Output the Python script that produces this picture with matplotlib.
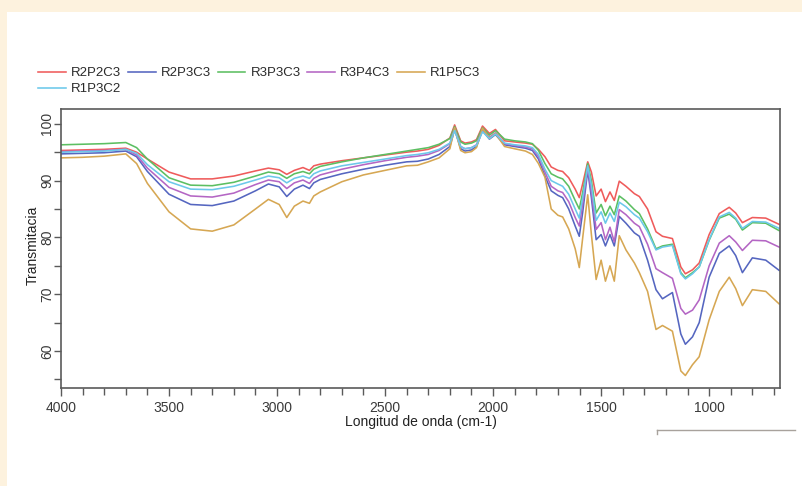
import matplotlib
matplotlib.use("Agg")
import matplotlib.pyplot as plt
from matplotlib.lines import Line2D
from matplotlib.patches import Rectangle
from matplotlib.ticker import MultipleLocator

plt.rcParams['font.family'] = ['Liberation Sans', 'DejaVu Sans']

# ---------------- data ----------------
wavenumber = [4000, 3900, 3800, 3700, 3650, 3600, 3500, 3400, 3300, 3200, 3100, 3040,
              2990, 2955, 2920, 2880, 2850, 2830, 2800, 2700, 2600, 2500, 2400, 2350,
              2300, 2250, 2200, 2178, 2150, 2130, 2100, 2077, 2049, 2017, 1989, 1947,
              1900, 1850, 1818, 1790, 1760, 1731, 1700, 1678, 1650, 1620, 1601, 1585,
              1562, 1545, 1523, 1500, 1480, 1459, 1439, 1416, 1385, 1346, 1323, 1285,
              1246, 1216, 1170, 1131, 1110, 1077, 1046, 1000, 953, 907, 877, 846,
              800, 738, 676]

R2P2C3 = [95.3, 95.4, 95.5, 95.7, 95.0, 93.8, 91.5, 90.3, 90.3, 90.8, 91.7, 92.2,
          91.9, 91.1, 91.8, 92.3, 91.8, 92.6, 92.9, 93.5, 94.0, 94.5, 95.0, 95.2,
          95.5, 96.2, 97.5, 99.8, 97.0, 96.6, 96.8, 97.2, 99.6, 98.3, 99.0, 97.0,
          96.8, 96.6, 96.4, 95.5, 94.2, 92.4, 91.8, 91.6, 90.5, 88.5, 87.0, 89.5,
          93.3, 91.5, 87.3, 88.5, 86.3, 88.0, 86.5, 89.9, 89.0, 87.7, 87.2, 85.0,
          81.0, 80.2, 79.8, 74.8, 73.6, 74.3, 75.5, 80.5, 84.2, 85.3, 84.3, 82.6,
          83.5, 83.4, 82.3]

R2P3C3 = [94.7, 94.8, 94.9, 95.2, 94.2, 91.6, 87.6, 85.8, 85.6, 86.4, 88.2, 89.4,
          88.9, 87.2, 88.5, 89.2, 88.6, 89.6, 90.2, 91.2, 92.0, 92.7, 93.3, 93.4,
          93.8, 94.6, 96.0, 99.0, 95.6, 95.2, 95.4, 96.0, 98.8, 97.3, 98.1, 96.3,
          96.0, 95.7, 95.3, 93.8, 90.8, 88.2, 87.4, 87.0, 85.0, 82.0, 80.2, 84.5,
          91.8, 87.0, 79.6, 80.5, 78.5, 80.5, 78.5, 83.7, 82.5, 80.8, 80.2, 76.0,
          70.8, 69.2, 70.3, 63.0, 61.2, 62.5, 65.0, 73.0, 77.2, 78.5, 76.8, 73.8,
          76.4, 76.0, 74.2]

R3P3C3 = [96.3, 96.4, 96.5, 96.7, 95.8, 93.8, 90.5, 89.2, 89.1, 89.7, 90.8, 91.5,
          91.2, 90.4, 91.2, 91.6, 91.2, 92.0, 92.5, 93.3, 94.0, 94.6, 95.2, 95.5,
          95.8, 96.4, 97.4, 99.5, 96.8, 96.4, 96.6, 97.0, 99.3, 98.0, 98.8, 97.3,
          97.0, 96.8, 96.5, 95.3, 93.0, 91.2, 90.6, 90.3, 89.0, 86.5, 85.0, 88.0,
          93.0, 90.0, 84.3, 85.8, 83.8, 85.5, 84.0, 87.3, 86.4, 84.9, 84.2, 81.5,
          78.0, 78.5, 78.8, 73.8, 72.9, 73.8, 74.8, 79.5, 83.4, 84.1, 83.2, 81.3,
          82.6, 82.5, 81.2]

R3P4C3 = [95.1, 95.2, 95.3, 95.5, 94.5, 92.2, 88.8, 87.3, 87.1, 87.8, 89.3, 90.1,
          89.8, 88.6, 89.6, 90.1, 89.5, 90.4, 91.0, 92.0, 92.8, 93.5, 94.1, 94.3,
          94.6, 95.3, 96.5, 99.2, 96.0, 95.6, 95.8, 96.3, 99.0, 97.6, 98.4, 96.5,
          96.2, 95.9, 95.6, 94.2, 91.5, 89.0, 88.2, 87.9, 86.3, 83.5, 82.0, 86.0,
          92.3, 88.0, 81.4, 82.6, 79.6, 81.8, 79.2, 84.9, 84.0, 82.5, 81.9, 78.8,
          74.5, 73.8, 72.8, 67.5, 66.5, 67.2, 69.0, 75.0, 79.0, 80.3, 79.2, 77.7,
          79.5, 79.4, 78.3]

R1P5C3 = [94.0, 94.1, 94.3, 94.7, 93.0, 89.5, 84.5, 81.5, 81.1, 82.2, 85.0, 86.7,
          85.8, 83.5, 85.5, 86.4, 86.0, 87.3, 88.0, 89.8, 91.0, 91.8, 92.6, 92.7,
          93.3, 94.0, 95.6, 99.3, 95.3, 94.9, 95.1, 95.8, 99.2, 97.4, 98.3, 96.0,
          95.6, 95.2, 94.6, 93.0, 90.6, 85.0, 83.9, 83.6, 81.5, 78.0, 74.7, 80.0,
          87.5, 80.5, 72.6, 76.0, 72.3, 75.0, 72.3, 80.3, 77.8, 75.5, 73.8, 70.5,
          63.8, 64.5, 63.5, 56.5, 55.7, 57.6, 59.0, 65.5, 70.5, 73.0, 71.0, 68.0,
          70.8, 70.5, 68.3]

R1P3C2 = [95.0, 95.1, 95.2, 95.5, 94.8, 92.8, 89.8, 88.5, 88.4, 89.0, 90.1, 90.8,
          90.5, 89.6, 90.4, 90.8, 90.4, 91.2, 91.7, 92.6, 93.2, 93.8, 94.4, 94.6,
          94.9, 95.5, 96.6, 98.8, 96.0, 95.6, 95.8, 96.2, 98.6, 97.4, 98.2, 96.6,
          96.3, 96.1, 95.8, 94.6, 92.0, 90.0, 89.4, 89.0, 87.6, 85.0, 83.4, 87.0,
          92.6, 89.2, 83.0, 84.5, 82.5, 84.3, 82.8, 86.2, 85.4, 84.0, 83.4, 81.0,
          77.8, 78.3, 78.6, 73.6, 72.7, 73.6, 74.8, 79.6, 83.6, 84.4, 83.4, 81.6,
          82.8, 82.7, 81.6]

series_names = ["R2P2C3", "R2P3C3", "R3P3C3", "R3P4C3", "R1P5C3", "R1P3C2"]
series_values = [R2P2C3, R2P3C3, R3P3C3, R3P4C3, R1P5C3, R1P3C2]
series_colors = ["#ef5b5b", "#5566c0", "#5cbf62", "#b466c4", "#d6a753", "#6cc8ea"]

x_ticks = [4000, 3500, 3000, 2500, 2000, 1500, 1000]
y_ticks = [60, 70, 80, 90, 100]

# ---------------- figure ----------------
W, H = 802, 486
fig = plt.figure(figsize=(W / 100, H / 100), dpi=100, facecolor="white")

cream = "#fdf2de"
fig.add_artist(Rectangle((0, 1 - 12 / H), 1, 12 / H, transform=fig.transFigure,
                         facecolor=cream, edgecolor="none", zorder=0))
fig.add_artist(Rectangle((0, 0), 7 / W, 1, transform=fig.transFigure,
                         facecolor=cream, edgecolor="none", zorder=0))

left, right, top, bottom = 61, 780, 109, 388
ax = fig.add_axes([left / W, (H - bottom) / H, (right - left) / W, (bottom - top) / H])

lines = {}
for name, vals, col in zip(series_names, series_values, series_colors):
    ln, = ax.plot(wavenumber, vals, color=col, lw=1.15, label=name)
    lines[name] = ln

ax.set_xlim(4000, 672)
ax.set_ylim(53.5, 102.6)
ax.set_xticks(x_ticks)
ax.set_yticks(y_ticks)
ax.xaxis.set_minor_locator(MultipleLocator(100))
ax.yaxis.set_minor_locator(MultipleLocator(5))

spine_col = "#5a5a5a"
for s in ax.spines.values():
    s.set_color(spine_col)
    s.set_linewidth(1.2)

ax.tick_params(axis="both", which="both", direction="out", color=spine_col,
               width=1.0, labelcolor="#3a3a3a", labelsize=10)
ax.tick_params(axis="x", which="major", length=6, pad=3)
ax.tick_params(axis="x", which="minor", length=5)
ax.tick_params(axis="y", which="both", length=5)
ax.tick_params(axis="y", which="major", pad=0)
for lab in ax.get_yticklabels():
    lab.set_rotation(90)
    lab.set_va("center")

ax.set_xlabel("Longitud de onda (cm-1)", fontsize=10, color="#222222")
ax.xaxis.set_label_coords(0.5, -(415 - bottom) / (bottom - top))
ax.set_ylabel("Transmitacia", fontsize=10, color="#222222")
ax.yaxis.set_label_coords(-(61 - 40) / (right - left), 0.513)

# legend (order arranged so that it reads row by row)
order = ["R2P2C3", "R1P3C2", "R2P3C3", "R3P3C3", "R3P4C3", "R1P5C3"]
leg = fig.legend([lines[n] for n in order], order, ncol=5, frameon=False,
                 loc="upper left", bbox_to_anchor=(38 / W, 1 - 67 / H),
                 fontsize=9.5, handlelength=2.1, handletextpad=0.4,
                 columnspacing=0.5, labelspacing=0.3, borderpad=0,
                 borderaxespad=0)
for t in leg.get_texts():
    t.set_color("#2a2a2a")

# stray grey rule at bottom right of the reference
fig.add_artist(Line2D([657 / W, 795 / W], [(H - 430) / H, (H - 430) / H],
                      transform=fig.transFigure, color="#a8a29c", lw=1.0))
fig.add_artist(Line2D([657 / W, 657 / W], [(H - 430) / H, (H - 434) / H],
                      transform=fig.transFigure, color="#a8a29c", lw=1.0))

fig.savefig("out.png", dpi=100, facecolor=fig.get_facecolor())
